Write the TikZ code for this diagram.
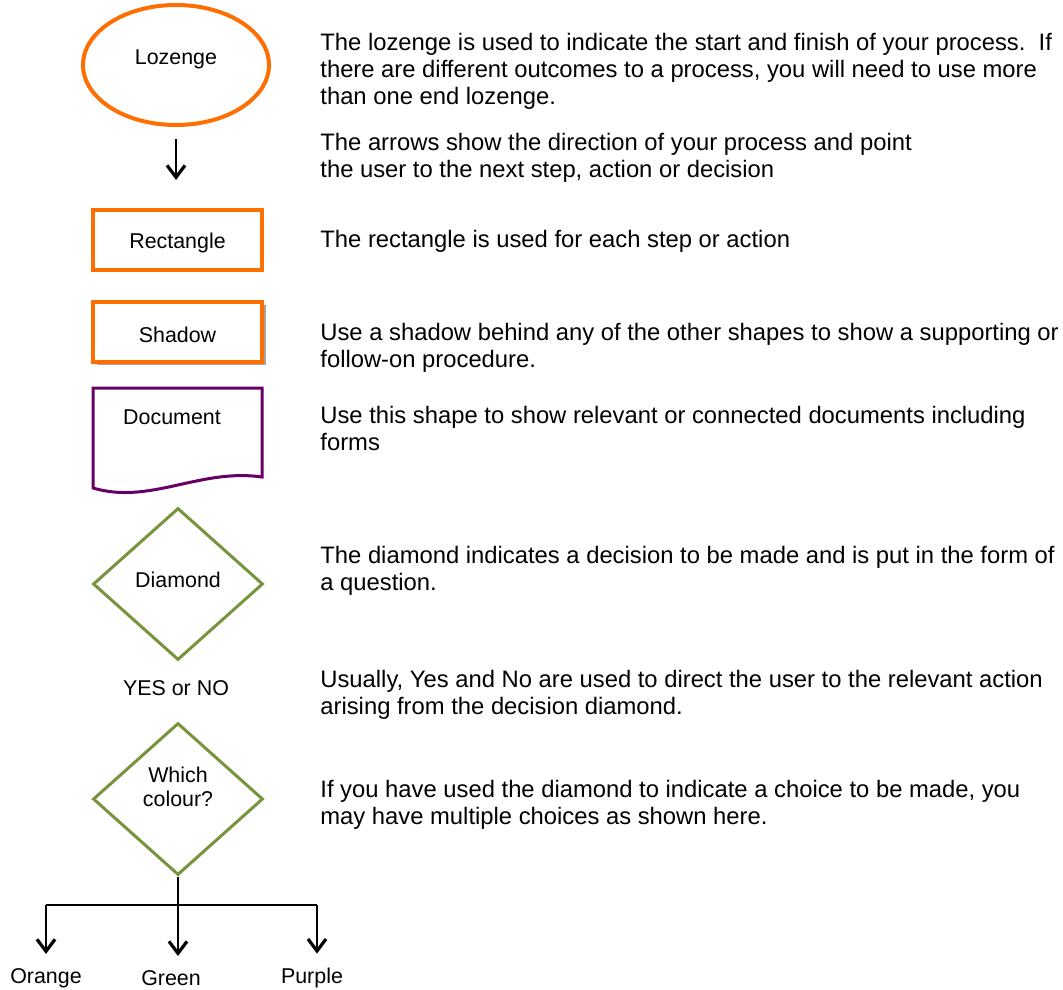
\documentclass[tikz,border=0pt]{standalone}
\usepackage{fontspec}
\setmainfont{Liberation Sans}
\usetikzlibrary{arrows.meta,positioning,shapes.geometric,shadows}
\definecolor{lozorange}{RGB}{255,110,0}
\definecolor{decgreen}{RGB}{119,147,60}
\definecolor{docpurple}{RGB}{102,0,102}
\newcommand{\shapefont}{\fontsize{10.7}{12}\selectfont}
\tikzset{lz/.style={ellipse,draw=lozorange,line width=2pt,minimum width=93pt,minimum height=60pt,inner sep=0pt,font=\shapefont},
 rb/.style={draw=lozorange,fill=white,line width=2pt,minimum width=84.5pt,minimum height=30pt,inner sep=0pt,text height=11pt,font=\shapefont},
 sb/.style={rb,drop shadow={shadow xshift=1.8pt,shadow yshift=-1.8pt,fill=black!60,opacity=.6}},
 dm/.style={diamond,draw=decgreen,line width=1.5pt,minimum width=85pt,minimum height=76pt,inner sep=0pt,align=center,font=\shapefont},
 lbl/.style={inner sep=1pt,font=\shapefont},
 txt/.style={anchor=base west,align=left,inner sep=0pt,font=\fontsize{11.9}{13.5}\selectfont},
 flow/.style={-{Straight Barb[length=6pt,width=9pt,line width=1.6pt]},line width=1.4pt},
 wire/.style={line width=1.4pt}}
\begin{document}
\begin{tikzpicture}[x=0.5pt,y=-0.5pt]
\useasboundingbox (0,0) rectangle (1063,989);
% shapes on the left
\node[lz,text depth=8.3pt] (loz) at (176,65) {Lozenge};
\draw[flow,shorten <=6pt] (loz.south) -- ++(0,53);
\node[rb] (rect) at (177.5,240) {Rectangle};
\node[sb] (shad) at (177.5,331.5) {Shadow};
\draw[docpurple,line width=1.5pt] (93,488) -- (93,388) -- (262,388) -- (262,477)
  .. controls (200,468) and (150,505) .. (93,488) -- cycle;
\node[lbl] (doc) at (172,417) {Document};
\node[dm,text depth=4pt] (dia) at (178,584) {Diamond};
\node[lbl] (yn) at (176,688) {YES or NO};
\node[dm,text depth=12.5pt] (col) at (178,799) {Which\\colour?};
% choices
\coordinate (jl) at (46,905);
\coordinate (jr) at (317,905);
\coordinate (jm) at (col.south |- jl);
\node[lbl] (ora) at (46,978) {Orange};
\node[lbl] (gre) at (171,978) {Green};
\node[lbl] (pur) at (312,978) {Purple};
\draw[wire] (col.south) -- (jm);
\draw[wire] (jl) -- (jr);
\draw[flow,shorten >=6pt] (jl) -- (jl |- ora.north);
\draw[flow,shorten >=6pt] (jm) -- (jm |- gre.north);
\draw[flow,shorten >=6pt] (jr) -- (jr |- pur.north);
% descriptions (anchored at the last line)
\node[txt] (t1) at (320,105) {The lozenge is used to indicate the start and finish of your process.\ \ If\\there are different outcomes to a process, you will need to use more\\than one end lozenge.};
\node[txt] (t2) at (320,178) {The arrows show the direction of your process and point\\the user to the next step, action or decision};
\node[txt] (t3) at (320,248) {The rectangle is used for each step or action};
\node[txt] (t4) at (320,367) {Use a shadow behind any of the other shapes to show a supporting or\\follow-on procedure.};
\node[txt] (t5) at (320,450) {Use this shape to show relevant or connected documents including\\forms};
\node[txt] (t6) at (320,590) {The diamond indicates a decision to be made and is put in the form of\\a question.};
\node[txt] (t7) at (320,714) {Usually, Yes and No are used to direct the user to the relevant action\\arising from the decision diamond.};
\node[txt] (t8) at (320,824) {If you have used the diamond to indicate a choice to be made, you\\may have multiple choices as shown here.};
\end{tikzpicture}
\end{document}
